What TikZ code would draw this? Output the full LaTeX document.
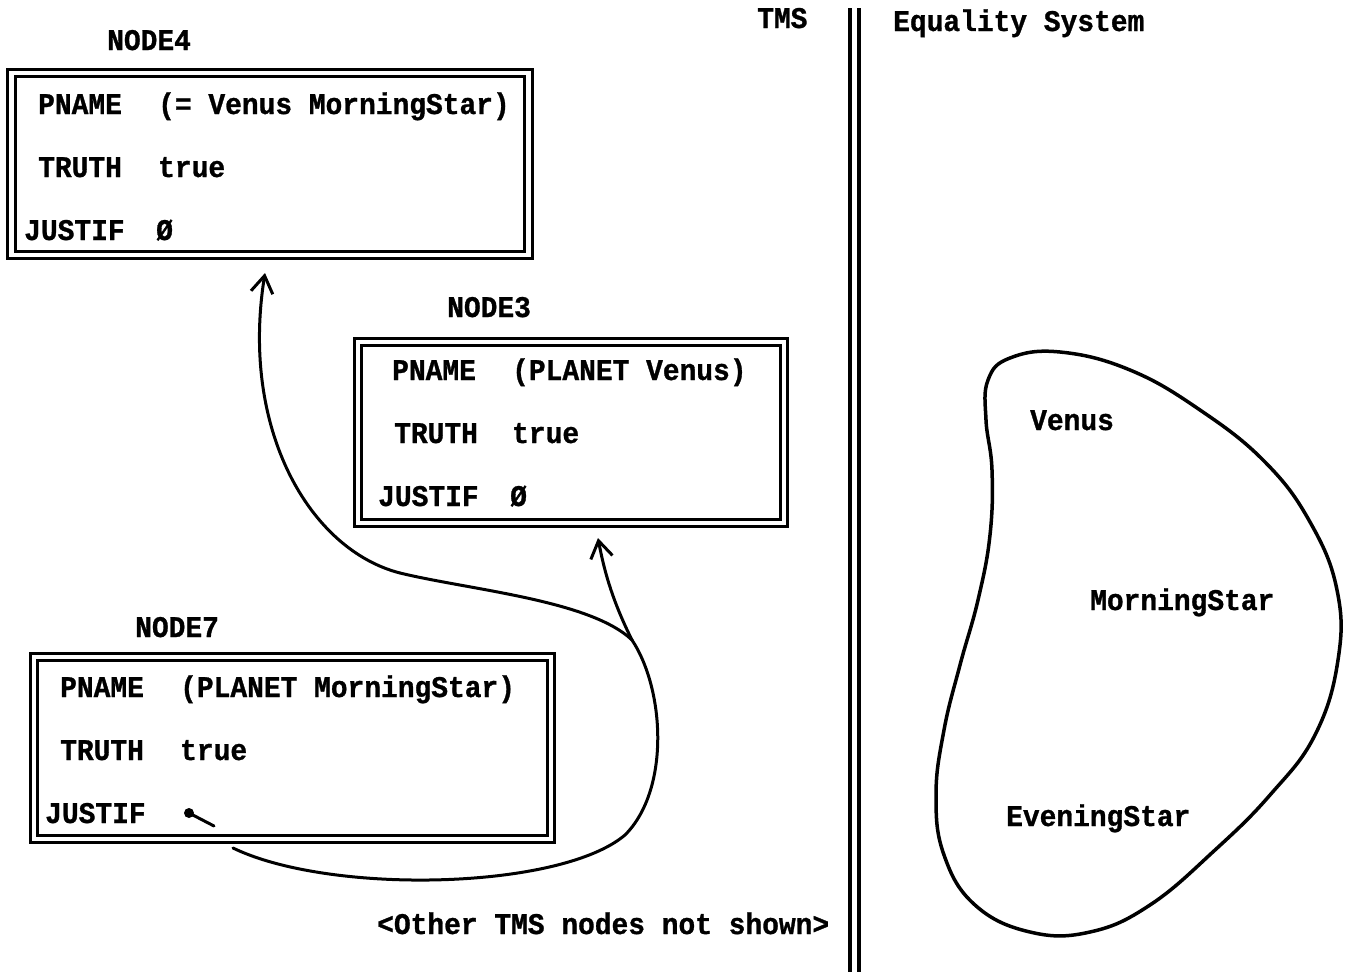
\documentclass[tikz,border=0pt]{standalone}
\usepackage{fontspec}
\setmonofont[FakeStretch=0.93, BoldFeatures={FakeBold=1}]{Liberation Mono}
\usetikzlibrary{arrows.meta}
\tikzset{
  txt/.style={anchor=base west, inner sep=0pt, font=\ttfamily\bfseries\fontsize{30}{36}\selectfont},
  recbox/.style={draw, double, double distance=4.5pt, line width=3pt, inner sep=0pt},
  link/.style={line width=3pt, line cap=round},
  barb/.style={link, -{Straight Barb[length=17pt,width=22pt,line width=3pt]}},
}
\begin{document}
\begin{tikzpicture}[x=1pt,y=-1pt]
\useasboundingbox (0,0) rectangle (1347,972);

% TMS nodes
\node[txt] (t4) at (107,50) {NODE4};
\node[recbox, minimum width=517pt, minimum height=182pt] (n4) at (270,164) {};
\node[txt] (n4a) at (38,114) {PNAME};
\node[txt] (n4b) at (158,114) {(= Venus MorningStar)};
\node[txt] (n4c) at (38,177) {TRUTH};
\node[txt] (n4d) at (158,177) {true};
\node[txt] (n4e) at (24,240) {JUSTIF};
\node[txt] (n4f) at (156,240) {Ø};

\node[txt] (t3) at (447,317) {NODE3};
\node[recbox, minimum width=426pt, minimum height=181pt] (n3) at (571,432.5) {};
\node[txt] (n3a) at (392,380) {PNAME};
\node[txt] (n3b) at (512,380) {(PLANET Venus)};
\node[txt] (n3c) at (394,443) {TRUTH};
\node[txt] (n3d) at (512,443) {true};
\node[txt] (n3e) at (378,506) {JUSTIF};
\node[txt] (n3f) at (510,506) {Ø};

\node[txt] (t7) at (135,637) {NODE7};
\node[recbox, minimum width=517pt, minimum height=182pt] (n7) at (292.5,748) {};
\node[txt] (n7a) at (60,697) {PNAME};
\node[txt] (n7b) at (180,697) {(PLANET MorningStar)};
\node[txt] (n7c) at (60,760) {TRUTH};
\node[txt] (n7d) at (180,760) {true};
\node[txt] (n7e) at (45,823) {JUSTIF};

% justification pointer of NODE7
\fill (189,813) circle (5pt);
\draw[link] (189,813) -- (214,826);

% justification links
\coordinate (j7) at (233,848);
\coordinate (fork) at (632,640);
\coordinate (mid) at (400,573);
\draw[link] (j7) .. controls (330,895) and (560,890) .. (625,835)
                 .. controls (670,790) and (665,690) .. (fork);
\draw[barb] (fork) .. controls (612,600) and (604,570) .. (598,538);
\draw[link] (fork) .. controls (590,600) and (470,590) .. (mid);
\draw[barb] (mid) .. controls (310,550) and (240,430) .. (265,273);

\node[txt] (other) at (377,934) {<Other TMS nodes not shown>};

% separator between the two systems
\node[txt] (tms) at (757,28) {TMS};
\draw[line width=3.5pt] (850,8) -- (850,972);
\draw[line width=3.5pt] (859,8) -- (859,972);
\node[txt] (eqs) at (893,31) {Equality System};

% equivalence class
\draw[line width=3.5pt] plot[smooth cycle, tension=0.7] coordinates {
  (1010,358) (1060,352) (1130,370) (1200,410) (1265,462) (1310,522)
  (1337,590) (1338,660) (1315,735) (1270,795) (1215,850) (1150,905)
  (1090,932) (1030,932) (975,905) (944,855) (936,795) (944,730)
  (960,665) (978,600) (990,535) (992,470) (986,420) (988,380)};
\node[txt] (venus) at (1030,430) {Venus};
\node[txt] (mstar) at (1090,610) {MorningStar};
\node[txt] (estar) at (1006,826) {EveningStar};
\end{tikzpicture}
\end{document}
